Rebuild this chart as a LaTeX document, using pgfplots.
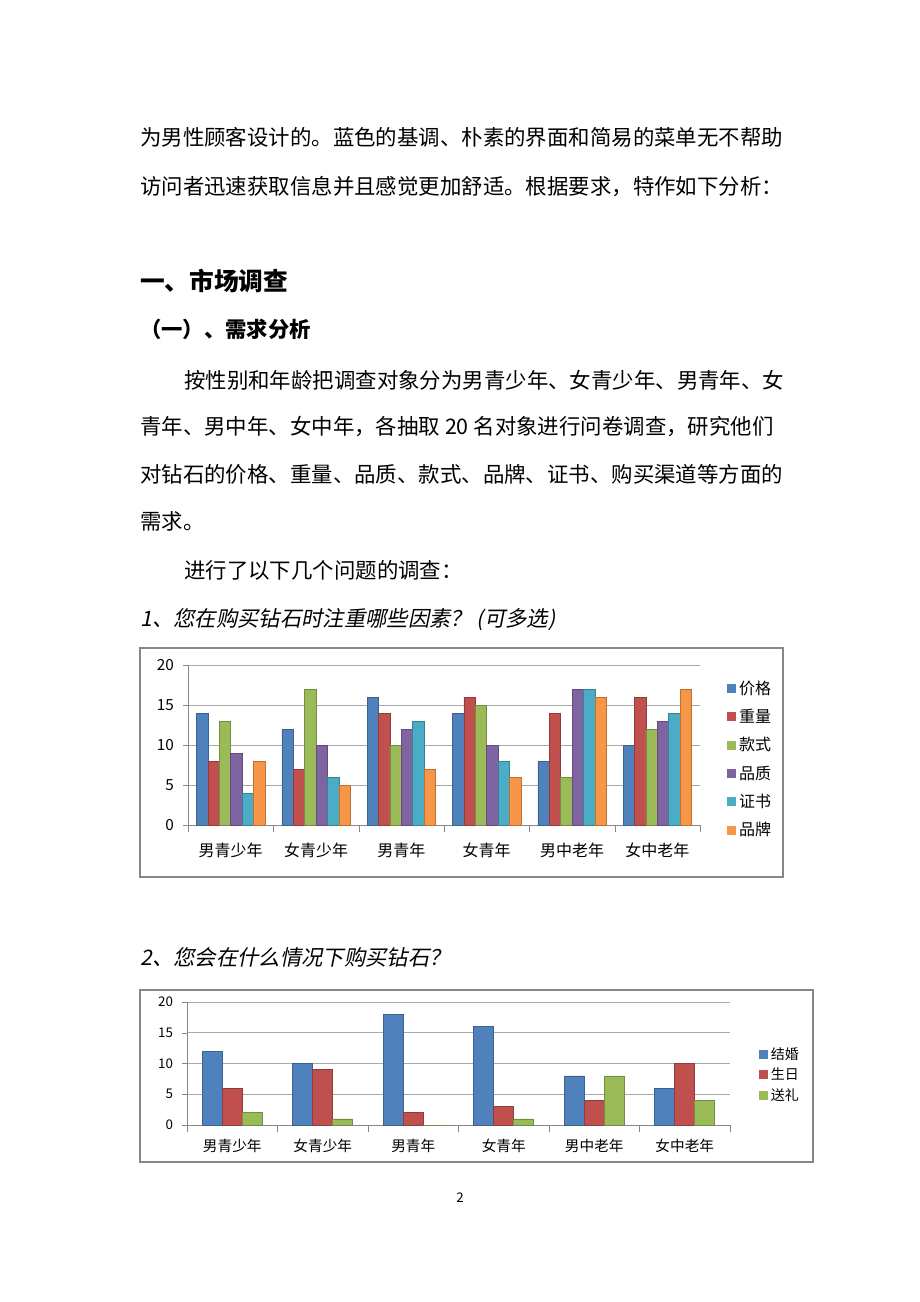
\documentclass[border=0pt]{standalone}
\usepackage{fontspec}
\setmainfont{Noto Sans CJK SC}
\newfontfamily\cjkit[FakeSlant=0.2]{Noto Sans CJK SC}
\usepackage{pgfplots}
\usepackage{pgfplotstable}
\pgfplotsset{compat=1.18}
\definecolor{c1}{HTML}{4F81BD}
\definecolor{c2}{HTML}{C0504D}
\definecolor{c3}{HTML}{9BBB59}
\definecolor{c4}{HTML}{8064A2}
\definecolor{c5}{HTML}{4BACC6}
\definecolor{c6}{HTML}{F79646}
\definecolor{axgray}{HTML}{868686}
\pgfplotstableread{
x price weight style quality cert brand
0 14 8 13 9 4 8
1 12 7 17 10 6 5
2 16 14 10 12 13 7
3 14 16 15 10 8 6
4 8 14 6 17 17 16
5 10 16 12 13 14 17
}\tblA
\pgfplotstableread{
x wed bday gift
0 12 6 2
1 10 9 1
2 18 2 0
3 16 3 1
4 8 4 8
5 6 10 4
}\tblB
\pgfplotsset{
  sq legend/.style={legend image code/.code={\fill[##1,draw=none] (0pt,-3.4pt) rectangle (6.8pt,3.4pt);}},
  docchart/.style={
    scale only axis, anchor=south west,
    xmin=-0.5, xmax=5.5, ymin=0, ymax=20,
    ybar=0pt,
    xtick={0,...,5},
    xticklabels={男青少年,女青少年,男青年,女青年,男中老年,女中老年},
    major x tick style={draw=none},
    minor xtick={-0.5,0.5,...,5.5},
    ytick={0,5,...,20},
    ymajorgrids, grid style={axgray!70, line width=0.6pt},
    axis x line*=bottom, axis y line*=left,
    axis line style={axgray,-},
    tick style={axgray},
    tick align=outside,
    major tick length=4pt, minor tick length=5pt,
    /pgf/number format/assume math mode=true,
    legend cell align=left,
  }
}
\begin{document}
\begin{tikzpicture}
\fill[white] (0,0) rectangle (690pt,-976.5pt);
% body text
\begin{scope}[every node/.style={anchor=west, inner sep=0pt, font=\fontsize{16.07}{16}\selectfont}]
\node at (105pt,-102.75pt) {为男性顾客设计的。蓝色的基调、朴素的界面和简易的菜单无不帮助};
\node at (105pt,-140.25pt) {访问者迅速获取信息并且感觉更加舒适。根据要求，特作如下分析：};
\node[font=\fontsize{18.5}{18}\selectfont\bfseries] at (105pt,-210.75pt) {一、市场调查};
\node[font=\fontsize{16}{16}\selectfont\bfseries] at (105pt,-246.75pt) {（一）、需求分析};
\node at (138pt,-285pt) {按性别和年龄把调查对象分为男青少年、女青少年、男青年、女};
\node at (105pt,-320.25pt) {青年、男中年、女中年，各抽取 20 名对象进行问卷调查，研究他们};
\node at (105pt,-355.5pt) {对钻石的价格、重量、品质、款式、品牌、证书、购买渠道等方面的};
\node at (105pt,-390.75pt) {需求。};
\node at (138pt,-427.5pt) {进行了以下几个问题的调查：};
\node[font=\fontsize{16}{16}\selectfont\cjkit] at (105pt,-465pt) {1、您在购买钻石时注重哪些因素？ (可多选)};
\node[font=\fontsize{16}{16}\selectfont\cjkit] at (105pt,-717.75pt) {2、您会在什么情况下购买钻石？};
\end{scope}
\node[font=\fontsize{10}{10}\selectfont, inner sep=0pt] at (345pt,-898.5pt) {2};
% frames
\draw[axgray, line width=0.8pt] (105pt,-486pt) rectangle (587.25pt,-657.75pt);
\draw[axgray, line width=0.8pt] (105pt,-742.5pt) rectangle (609.75pt,-871.5pt);
% chart 1
\begin{axis}[docchart,
  at={(141pt,-618.75pt)}, width=384pt, height=120pt,
  bar width=8.55pt,
  xticklabel style={font=\fontsize{12}{12}\selectfont, yshift=-6pt},
  yticklabel style={font=\fontsize{11.5}{12}\selectfont, xshift=-3pt},
  legend style={at={(1.045,0.41)}, anchor=west, draw=none, fill=none,
    font=\fontsize{12}{12}\selectfont, row sep=5.7pt},
]
\addplot[fill=c1, draw=c1!75!black, sq legend] table[x=x,y=price]{\tblA};
\addlegendentry{价格}
\addplot[fill=c2, draw=c2!75!black, sq legend] table[x=x,y=weight]{\tblA};
\addlegendentry{重量}
\addplot[fill=c3, draw=c3!75!black, sq legend] table[x=x,y=style]{\tblA};
\addlegendentry{款式}
\addplot[fill=c4, draw=c4!75!black, sq legend] table[x=x,y=quality]{\tblA};
\addlegendentry{品质}
\addplot[fill=c5, draw=c5!75!black, sq legend] table[x=x,y=cert]{\tblA};
\addlegendentry{证书}
\addplot[fill=c6, draw=c6!75!black, sq legend] table[x=x,y=brand]{\tblA};
\addlegendentry{品牌}
\end{axis}
% chart 2
\begin{axis}[docchart,
  at={(140.25pt,-843.75pt)}, width=407.25pt, height=92.25pt,
  bar width=15pt,
  xticklabel style={font=\fontsize{11}{11}\selectfont, yshift=-3pt},
  yticklabel style={font=\fontsize{10}{10}\selectfont, xshift=-3pt},
  legend style={at={(1.046,0.407)}, anchor=west, draw=none, fill=none,
    font=\fontsize{10.5}{10.5}\selectfont, row sep=1.3pt},
]
\addplot[fill=c1, draw=c1!75!black, sq legend] table[x=x,y=wed]{\tblB};
\addlegendentry{结婚}
\addplot[fill=c2, draw=c2!75!black, sq legend] table[x=x,y=bday]{\tblB};
\addlegendentry{生日}
\addplot[fill=c3, draw=c3!75!black, sq legend] table[x=x,y=gift]{\tblB};
\addlegendentry{送礼}
\end{axis}
\pgfresetboundingbox
\path (0,0) rectangle (690pt,-976.5pt);
\end{tikzpicture}
\end{document}
